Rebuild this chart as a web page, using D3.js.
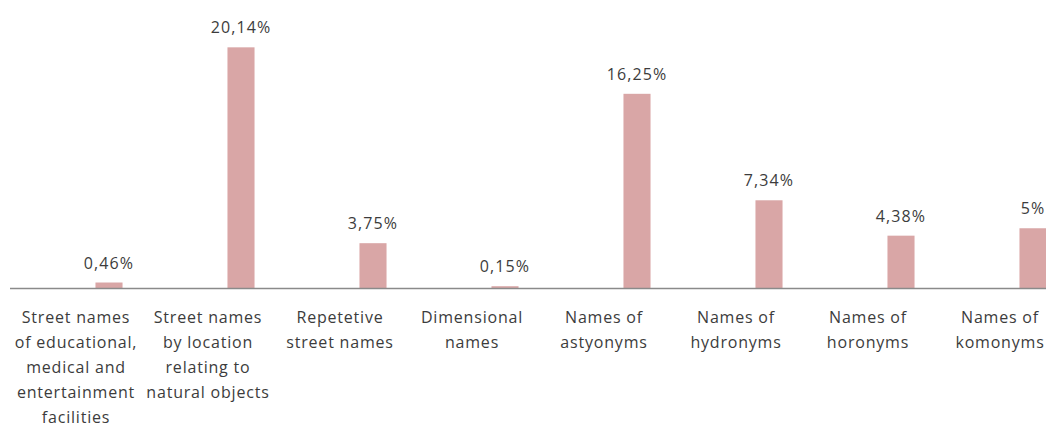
<!DOCTYPE html>
<html>
<head>
<meta charset="utf-8">
<script src="https://cdn.jsdelivr.net/npm/d3@7"></script>
<style>
  html, body { margin: 0; padding: 0; background: #fff; overflow: hidden; }
  svg { display: block; }
  text { font-family: "Open Sans", "Liberation Sans", sans-serif; fill: #3c3c3c; }
</style>
</head>
<body>
<svg id="chart" width="1046" height="428"></svg>
<script>
// Share of street-name types
const categories = [
  "Street names of educational, medical and entertainment facilities",
  "Street names by location relating to natural objects",
  "Repetetive street names",
  "Dimensional names",
  "Names of astyonyms",
  "Names of hydronyms",
  "Names of horonyms",
  "Names of komonyms"
];
const tickLabels = [
  ["Street names", "of educational,", "medical and", "entertainment", "facilities"],
  ["Street names", "by location", "relating to", "natural objects"],
  ["Repetetive", "street names"],
  ["Dimensional", "names"],
  ["Names of", "astyonyms"],
  ["Names of", "hydronyms"],
  ["Names of", "horonyms"],
  ["Names of", "komonyms"]
];
const values = [0.46, 20.14, 3.75, 0.15, 16.25, 7.34, 4.38, 5];
const valueLabels = ["0,46%", "20,14%", "3,75%", "0,15%", "16,25%", "7,34%", "4,38%", "5%"];

const svg = d3.select("#chart");
const baseY = 288;

// The plot runs past the right edge of the page, so the last column is clipped
const x = d3.scaleBand()
  .domain(categories)
  .range([43, 1099])
  .paddingInner(0.795)
  .paddingOuter(0.3975);

const y = d3.scaleLinear()
  .domain([0, 24])
  .range([baseY, baseY - 24 * 11.95]);

const rows = categories.map((c, i) => ({
  cat: c, value: values[i], label: valueLabels[i], lines: tickLabels[i]
}));

// Bars
svg.append("g")
  .selectAll("rect")
  .data(rows)
  .join("rect")
  .attr("x", d => x(d.cat))
  .attr("width", x.bandwidth())
  .attr("y", d => y(d.value))
  .attr("height", d => y(0) - y(d.value))
  .attr("fill", "#d9a6a6");

// Value labels above bars
svg.append("g")
  .selectAll("text")
  .data(rows)
  .join("text")
  .attr("x", d => x(d.cat) + x.bandwidth() / 2)
  .attr("y", d => y(d.value) - 14)
  .attr("text-anchor", "middle")
  .style("font-size", "16px")
  .style("letter-spacing", "1.1px")
  .text(d => d.label);

// Category axis
const axis = d3.axisBottom(x).tickSize(0).tickFormat("");
const axisG = svg.append("g")
  .attr("transform", `translate(0,${baseY + 0.5})`)
  .call(axis);
axisG.select(".domain").remove();
axisG.append("line")
  .attr("x1", 10).attr("x2", 1099)
  .attr("y1", 0).attr("y2", 0)
  .attr("stroke", "#8a8a8a")
  .attr("stroke-width", 1.4);

// Wrapped category labels, set a little left of each bar
axisG.selectAll(".tick").each(function(d, i) {
  const t = d3.select(this).append("text")
    .attr("text-anchor", "middle")
    .style("font-size", "16px")
    .style("letter-spacing", "0.8px");
  tickLabels[i].forEach((line, j) => {
    t.append("tspan")
      .attr("x", -33)
      .attr("y", 34 + j * 25.2)
      .text(line);
  });
});
</script>
</body>
</html>
